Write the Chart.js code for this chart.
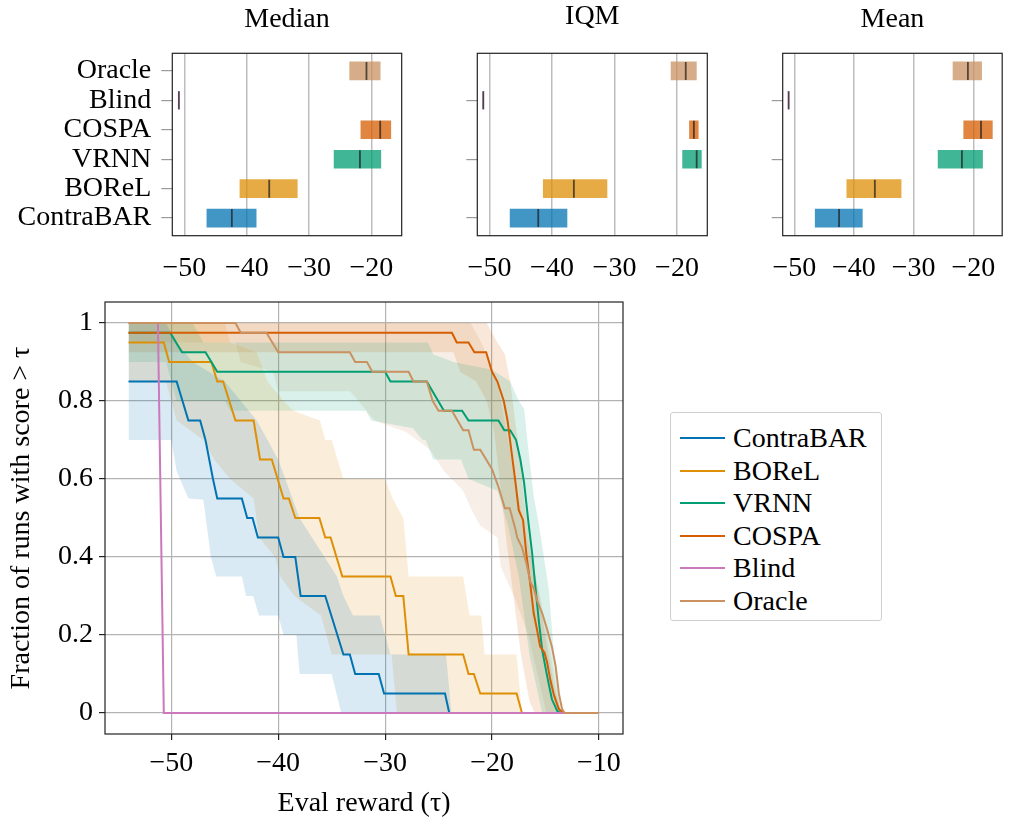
<!DOCTYPE html>
<html>
<head>
<meta charset="utf-8">
<script src="https://cdn.jsdelivr.net/npm/chart.js@4.4.1/dist/chart.umd.min.js"></script>
<style>
  body { margin: 0; background: #fff; width: 1013px; height: 824px; position: relative; overflow: hidden; font-family: "Liberation Serif", serif; }
  canvas { position: absolute; }
  #legend { position: absolute; left: 670px; top: 412px; width: 212px; height: 209px; border: 1px solid #cfcfcf; border-radius: 3px; box-sizing: border-box; }
  .item { position: absolute; left: 9px; height: 30px; display: flex; align-items: center; font-size: 28px; color: #000; }
  .swatch { display: inline-block; width: 45px; height: 0; border-top: 2px solid; margin-right: 8px; }
</style>
</head>
<body>
<canvas id="median" width="420" height="290" style="left:0;top:0"></canvas>
<canvas id="iqm" width="310" height="290" style="left:420px;top:0"></canvas>
<canvas id="mean" width="283" height="290" style="left:730px;top:0"></canvas>
<canvas id="profile" width="640" height="534" style="left:0;top:290px"></canvas>
<div id="legend"></div>
<script>
const serif = '"Liberation Serif", "DejaVu Serif", serif';
Chart.defaults.font.family = serif;
Chart.defaults.color = '#000';

// methods and colours
const methods = ['ContraBAR', 'BOReL', 'VRNN', 'COSPA', 'Blind', 'Oracle'];
const colors = ['#0173b2', '#de8f05', '#029e73', '#d55e00', '#cc78bc', '#ca9161'];

// top panels, listed top to bottom
const panelMethods = ['Oracle', 'Blind', 'COSPA', 'VRNN', 'BOReL', 'ContraBAR'];
const topTicks = [-50, -40, -30, -20];

const medianLow  = [-23.5, -50.95, -21.7, -26.0, -41.1, -46.4];
const medianHigh = [-18.6, -50.8, -16.9, -18.5, -31.9, -38.5];
const medianPt   = [-20.8, -50.9, -18.6, -21.85, -36.4, -42.4];

const iqmLow  = [-20.95, -51.05, -18.0, -19.1, -41.4, -46.7];
const iqmHigh = [-16.9, -50.9, -16.6, -16.1, -31.2, -37.6];
const iqmPt   = [-18.6, -51.0, -17.3, -16.85, -36.5, -42.2];

const meanLow  = [-23.4, -51.05, -21.6, -25.9, -41.2, -46.5];
const meanHigh = [-18.6, -50.9, -16.8, -18.45, -32.1, -38.6];
const meanPt   = [-20.9, -50.95, -18.7, -21.9, -36.5, -42.5];

// performance profiles: [tau, fraction]
const contrabarLine = [[-54,0.85],[-49.5,0.85],[-48.4,0.75],[-47.3,0.75],[-46.8,0.70],[-46.1,0.60],[-45.7,0.55],[-43.4,0.55],[-42.9,0.50],[-42.4,0.50],[-41.9,0.45],[-40.0,0.45],[-39.5,0.40],[-38.4,0.40],[-37.9,0.30],[-35.6,0.30],[-33.9,0.15],[-33.3,0.15],[-32.8,0.10],[-30.6,0.10],[-30.1,0.05],[-24.4,0.05],[-24.0,0],[-10,0]];
const borelLine = [[-54,0.95],[-50.7,0.95],[-50.2,0.90],[-46.25,0.90],[-45.7,0.85],[-45.15,0.85],[-44.0,0.75],[-42.3,0.75],[-41.7,0.65],[-40.6,0.65],[-39.5,0.55],[-39.0,0.55],[-38.4,0.50],[-36.15,0.50],[-35.6,0.45],[-35.1,0.45],[-34.0,0.35],[-29.5,0.35],[-29.0,0.30],[-28.3,0.30],[-27.8,0.15],[-22.7,0.15],[-22.2,0.10],[-21.7,0.10],[-21.1,0.05],[-17.7,0.05],[-17.2,0],[-10,0]];
const vrnnLine = [[-54,0.975],[-50.1,0.975],[-49.0,0.925],[-46.8,0.925],[-45.7,0.875],[-30.0,0.875],[-29.5,0.85],[-26.1,0.85],[-24.5,0.775],[-22.8,0.775],[-22.2,0.75],[-19.4,0.75],[-18.85,0.725],[-18.3,0.725],[-17.75,0.70],[-17.35,0.65],[-17.0,0.59],[-16.6,0.49],[-16.25,0.41],[-15.95,0.325],[-15.6,0.23],[-15.3,0.16],[-14.85,0.095],[-14.4,0.035],[-13.9,0.005],[-13.6,0],[-10,0]];
const cospaLine = [[-54,0.975],[-23.75,0.975],[-23.3,0.95],[-22.2,0.95],[-21.65,0.925],[-20.55,0.925],[-20.0,0.875],[-19.5,0.85],[-18.9,0.80],[-18.55,0.75],[-18.2,0.675],[-17.8,0.59],[-17.5,0.52],[-17.1,0.495],[-16.8,0.41],[-16.4,0.325],[-16.1,0.255],[-15.8,0.215],[-15.5,0.17],[-15.1,0.155],[-14.85,0.13],[-14.55,0.085],[-14.2,0.045],[-13.75,0.01],[-13.3,0],[-10,0]];
const blindLine = [[-54,1.0],[-51.25,1.0],[-50.7,0],[-10,0]];
const oracleLine = [[-54,1.0],[-44.0,1.0],[-43.5,0.975],[-41.1,0.975],[-40.0,0.925],[-33.3,0.925],[-32.8,0.90],[-31.7,0.90],[-31.2,0.875],[-27.8,0.875],[-27.35,0.85],[-26.1,0.85],[-25.55,0.80],[-25.0,0.775],[-23.75,0.775],[-22.7,0.725],[-22.2,0.725],[-21.7,0.675],[-21.1,0.675],[-20.0,0.625],[-19.4,0.58],[-18.8,0.525],[-18.35,0.525],[-17.8,0.47],[-17.65,0.45],[-17.2,0.425],[-16.8,0.385],[-16.4,0.335],[-16.1,0.32],[-15.8,0.29],[-15.3,0.255],[-14.85,0.215],[-14.4,0.17],[-14.05,0.12],[-13.75,0.05],[-13.45,0.01],[-13.2,0],[-10,0]];

// confidence bands
const contrabarUpper = [[-54,1.0],[-50.5,1.0],[-49.5,0.95],[-48,0.90],[-45,0.85],[-42,0.75],[-40,0.65],[-38,0.50],[-34.5,0.35],[-33.9,0.30],[-33,0.25],[-30.5,0.25],[-29.5,0.15],[-24.3,0.15],[-23.8,0],[-10,0]];
const contrabarLower = [[-54,0.70],[-50,0.70],[-49.5,0.62],[-48.4,0.55],[-47.0,0.547],[-46.3,0.40],[-45.8,0.35],[-43.4,0.35],[-43.0,0.30],[-42.35,0.30],[-41.8,0.25],[-40.0,0.25],[-39.5,0.20],[-38.3,0.20],[-38.0,0.10],[-35.0,0.10],[-34.1,0],[-10,0]];
const borelUpper = [[-54,1.0],[-45,1.0],[-44.5,0.95],[-42,0.925],[-41,0.85],[-39.5,0.80],[-38.6,0.775],[-36.1,0.75],[-35.6,0.70],[-35,0.70],[-33.9,0.60],[-30,0.60],[-29.3,0.55],[-28.3,0.50],[-27.8,0.35],[-22.7,0.35],[-22.1,0.25],[-21,0.25],[-20.7,0.15],[-17.7,0.15],[-17.2,0],[-10,0]];
const borelLower = [[-54,0.85],[-50.5,0.85],[-49.5,0.75],[-47,0.70],[-46,0.65],[-44.5,0.60],[-42.3,0.55],[-41.8,0.45],[-40.3,0.40],[-39.8,0.35],[-38.5,0.30],[-36,0.25],[-35,0.15],[-29.4,0.15],[-28.9,0],[-10,0]];
const vrnnUpper = [[-54,1.0],[-48,1.0],[-47,0.95],[-26,0.95],[-25.5,0.92],[-23.6,0.90],[-20,0.88],[-18.3,0.85],[-17.5,0.80],[-17.0,0.78],[-16.6,0.675],[-16.1,0.556],[-15.6,0.48],[-14.7,0.32],[-14.2,0.15],[-13.6,0],[-10,0]];
const vrnnLower = [[-54,0.90],[-50.5,0.90],[-49.5,0.80],[-45,0.80],[-44.5,0.775],[-31.8,0.775],[-31.3,0.75],[-27.4,0.73],[-26.5,0.70],[-26.2,0.70],[-25.5,0.65],[-22.9,0.65],[-22.2,0.60],[-19.5,0.57],[-18.5,0.48],[-17.5,0.35],[-16.5,0.15],[-15.3,0],[-10,0]];
const cospaUpper = [[-54,1.0],[-20.5,1.0],[-19.5,0.95],[-18.8,0.92],[-18.3,0.85],[-17.6,0.70],[-17.0,0.55],[-16.3,0.40],[-15.6,0.30],[-14.9,0.18],[-14.2,0.07],[-13.5,0],[-10,0]];
const cospaLower = [[-54,0.925],[-23.6,0.925],[-23.0,0.875],[-21.5,0.85],[-20.5,0.80],[-19.8,0.72],[-19.3,0.60],[-18.7,0.45],[-18.0,0.30],[-17.3,0.15],[-16.5,0.03],[-16.0,0],[-10,0]];
const oracleUpper = [[-54,1.0],[-22,1.0],[-21,0.95],[-19.5,0.85],[-18.5,0.70],[-17.5,0.55],[-16.5,0.42],[-15.5,0.30],[-14.7,0.18],[-13.9,0.05],[-13.3,0],[-10,0]];
const oracleLower = [[-54,0.95],[-44,0.95],[-43.5,0.90],[-40.5,0.875],[-40,0.825],[-33.3,0.825],[-32.5,0.80],[-31,0.75],[-28,0.72],[-25.8,0.675],[-24.5,0.62],[-22.7,0.57],[-21.9,0.52],[-21.1,0.48],[-19.5,0.45],[-19.2,0.376],[-17.8,0.29],[-16.6,0.20],[-15.5,0.07],[-14.9,0],[-10,0]];

const profileLines = [contrabarLine, borelLine, vrnnLine, cospaLine, blindLine, oracleLine];
const profileBands = [[contrabarUpper, contrabarLower], [borelUpper, borelLower], [vrnnUpper, vrnnLower],
                      [cospaUpper, cospaLower], null, [oracleUpper, oracleLower]];
const profileXTicks = [-50, -40, -30, -20, -10];
const profileYTicks = [0, 0.2, 0.4, 0.6, 0.8, 1];

function minus(v) {
    return v < 0 ? '\u2212' + Math.abs(v) : String(v);
}
function rgba(hex, a) {
    const n = parseInt(hex.slice(1), 16);
    return 'rgba(' + (n >> 16) + ',' + ((n >> 8) & 255) + ',' + (n & 255) + ',' + a + ')';
}

// box around the plotting area
const frame = {
    id: 'frame',
    afterDatasetsDraw(chart, args, opts) {
        const a = chart.chartArea;
        const c = chart.ctx;
        c.save();
        c.strokeStyle = opts.color || '#222';
        c.lineWidth = opts.width || 1.2;
        c.strokeRect(a.left, a.top, a.right - a.left, a.bottom - a.top);
        c.restore();
    }
};

const font = { family: serif, size: 28 };

function makePanel(id, title, low, high, pt, opt) {
    const barColors = panelMethods.map(m => rgba(colors[methods.indexOf(m)], 0.75));
    return new Chart(document.getElementById(id), {
        type: 'bar',
        data: {
            datasets: [{
                data: panelMethods.map((m, i) => ({ x: [low[i], high[i]], y: i })),
                backgroundColor: barColors,
                borderWidth: 0,
                barThickness: 18,
                order: 1
            }, {
                type: 'scatter',
                data: panelMethods.map((m, i) => ({ x: pt[i], y: i })),
                pointStyle: 'line',
                rotation: 90,
                radius: 9,
                borderColor: 'rgba(25,25,25,0.7)',
                borderWidth: 1.8,
                order: 0
            }]
        },
        options: {
            indexAxis: 'y',
            responsive: false,
            animation: false,
            events: [],
            layout: { padding: { right: opt.padRight, left: 0, bottom: 0, top: 0 } },
            plugins: {
                legend: { display: false },
                tooltip: { enabled: false },
                title: {
                    display: true, text: title, fullSize: false,
                    font: { family: serif, size: 28, weight: 'normal' }, color: '#000',
                    padding: { top: opt.titleTop, bottom: 53.3 - 33.6 - opt.titleTop }
                },
                frame: { color: '#222', width: 1.2 }
            },
            scales: {
                x: {
                    type: 'linear', min: -51.95, max: -15.15,
                    afterBuildTicks: s => { s.ticks = topTicks.map(v => ({ value: v })); },
                    afterFit: s => { s.height = 54.3; s.paddingLeft = 0; s.paddingRight = 0; },
                    ticks: { callback: v => minus(v), font: font, color: '#000', padding: 16 },
                    grid: { color: '#bdbdbd', lineWidth: 1.5, drawTicks: false },
                    border: { display: false }
                },
                y: {
                    type: 'linear', min: -0.6, max: 5.6, reverse: true, offset: false,
                    afterBuildTicks: s => { s.ticks = panelMethods.map((m, i) => ({ value: i })); },
                    afterFit: s => { s.width = opt.yWidth; s.paddingTop = 0; s.paddingBottom = 0; },
                    ticks: {
                        display: opt.labels, autoSkip: false, font: font, color: '#000', padding: 10,
                        callback: v => panelMethods[v]
                    },
                    grid: {
                        offset: false, drawOnChartArea: false, tickLength: 11, lineWidth: 1.2,
                        color: ctx => (opt.labels || ctx.index % 2 === 1) ? '#9a9a9a' : 'rgba(0,0,0,0)'
                    },
                    border: { display: false }
                }
            }
        },
        plugins: [frame]
    });
}

makePanel('median', 'Median', medianLow, medianHigh, medianPt, { padRight: 18.3, yWidth: 172.3, labels: true, titleTop: 3 });
makePanel('iqm', 'IQM', iqmLow, iqmHigh, iqmPt, { padRight: 22.7, yWidth: 57.3, labels: false, titleTop: 0 });
makePanel('mean', 'Mean', meanLow, meanHigh, meanPt, { padRight: 0.7, yWidth: 52.7, labels: false, titleTop: 3 });

// performance profile datasets
const toXY = arr => arr.map(p => ({ x: p[0], y: p[1] }));
const profileSets = [];
methods.forEach((m, i) => {
    profileSets.push({
        label: m,
        data: toXY(profileLines[i]),
        borderColor: colors[i],
        borderWidth: 2,
        pointRadius: 0,
        fill: false,
        tension: 0,
        order: 5 - i
    });
});
methods.forEach((m, i) => {
    const band = profileBands[i];
    if (!band) return;
    profileSets.push({
        label: m + ' upper',
        data: toXY(band[0]),
        borderWidth: 0,
        pointRadius: 0,
        backgroundColor: rgba(colors[i], 0.15),
        fill: '+1',
        order: 10
    });
    profileSets.push({
        label: m + ' lower',
        data: toXY(band[1]),
        borderWidth: 0,
        pointRadius: 0,
        fill: false,
        order: 10
    });
});

new Chart(document.getElementById('profile'), {
    type: 'line',
    data: { datasets: profileSets },
    options: {
        responsive: false,
        animation: false,
        events: [],
        layout: { padding: { top: 12, right: 17, left: 0, bottom: 0 } },
        plugins: {
            legend: { display: false },
            tooltip: { enabled: false },
            frame: { color: '#222', width: 1.2 }
        },
        scales: {
            x: {
                type: 'linear', min: -56.2, max: -7.75,
                afterBuildTicks: s => { s.ticks = profileXTicks.map(v => ({ value: v })); },
                afterFit: s => { s.height = 90; s.paddingLeft = 0; s.paddingRight = 0; },
                ticks: { callback: v => minus(v), font: font, color: '#000', padding: 7 },
                grid: { color: '#b3b3b3', lineWidth: 1.2, tickLength: 6, tickColor: '#222', tickWidth: 1.2 },
                border: { display: false },
                title: { display: true, text: 'Eval reward (\u03c4)', font: font, color: '#000', padding: { top: 0, bottom: 4 } }
            },
            y: {
                type: 'linear', min: -0.054, max: 1.054,
                afterBuildTicks: s => { s.ticks = profileYTicks.map(v => ({ value: v })); },
                afterFit: s => { s.width = 105; s.paddingTop = 0; s.paddingBottom = 0; },
                ticks: { callback: v => String(v), font: font, color: '#000', padding: 6 },
                grid: { color: '#b3b3b3', lineWidth: 1.2, tickLength: 6, tickColor: '#222', tickWidth: 1.2 },
                border: { display: false },
                title: { display: true, text: 'Fraction of runs with score > \u03c4', font: font, color: '#000', padding: { top: 5, bottom: 0 } }
            }
        }
    },
    plugins: [frame]
});

// legend
const legend = document.getElementById('legend');
methods.forEach((m, i) => {
    const row = document.createElement('div');
    row.className = 'item';
    row.style.top = (10 + 32.6 * i) + 'px';
    const sw = document.createElement('span');
    sw.className = 'swatch';
    sw.style.borderTopColor = colors[i];
    row.appendChild(sw);
    row.appendChild(document.createTextNode(m));
    legend.appendChild(row);
});
</script>
</body>
</html>
